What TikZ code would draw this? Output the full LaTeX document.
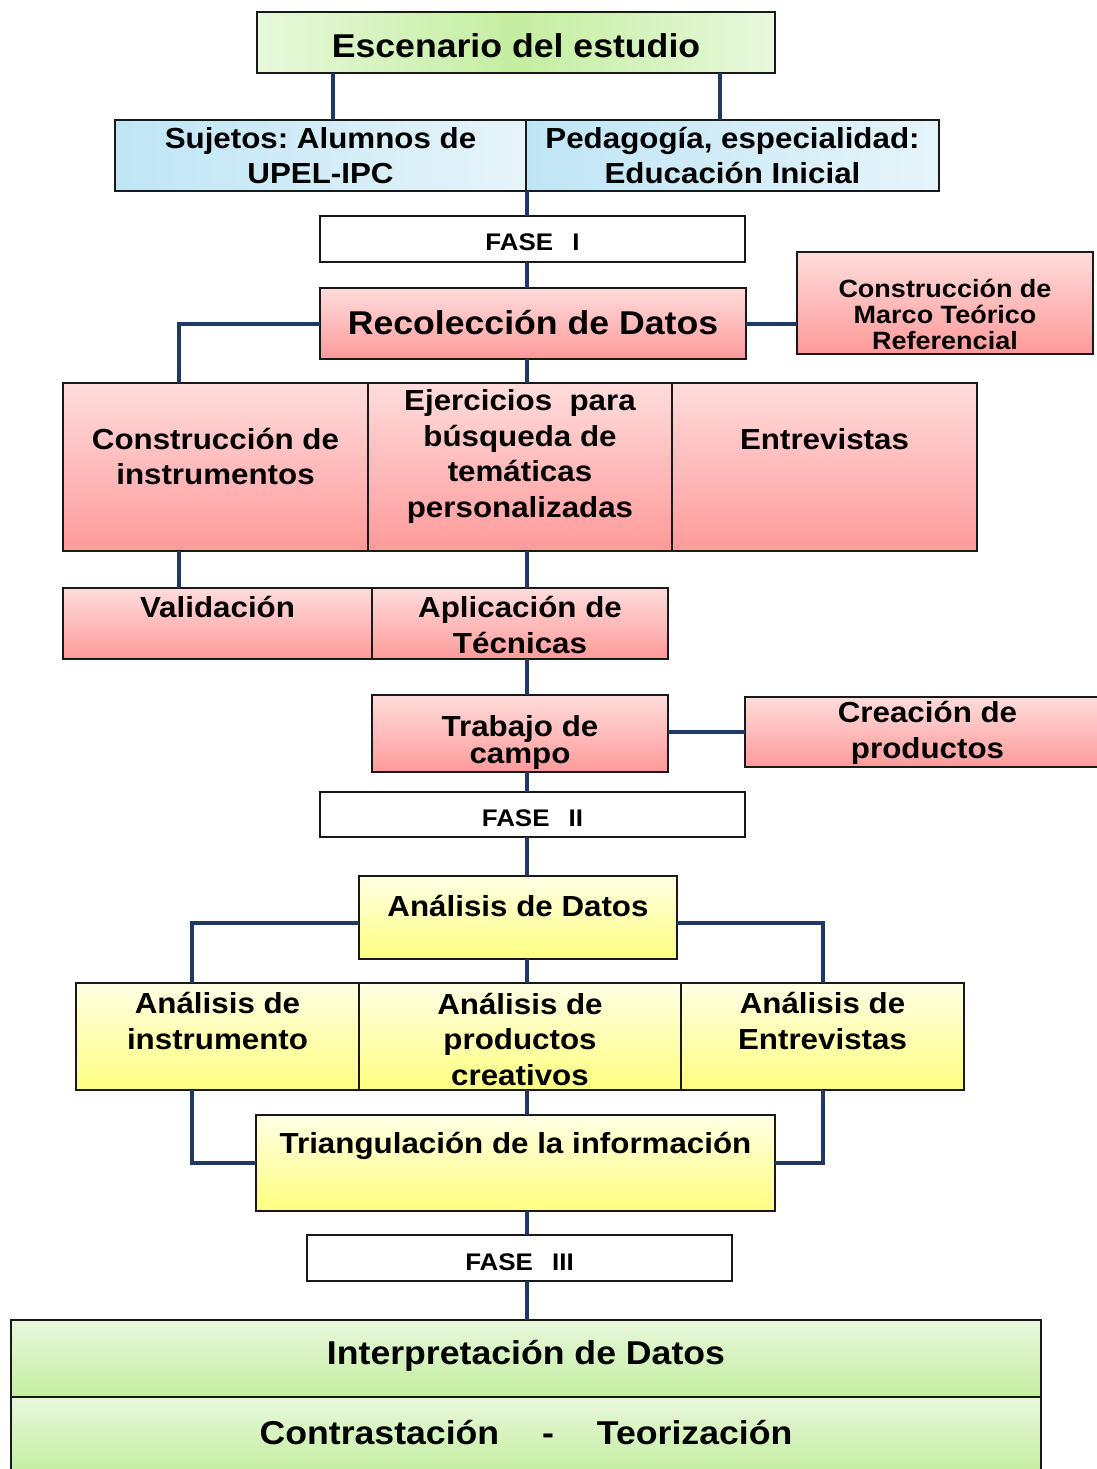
\documentclass[tikz,border=0pt]{standalone}
\usepackage{fontspec}
\setmainfont{Liberation Sans}[FakeStretch=1.08]
\frenchspacing

\definecolor{linkblue}{HTML}{1F3864}
\definecolor{pinktop}{HTML}{FFDCDC}
\definecolor{pinkbot}{HTML}{FF9A9A}
\definecolor{yeltop}{HTML}{FFFFE4}
\definecolor{yelbot}{HTML}{FFFF80}
\definecolor{greenedge}{HTML}{E8F8DC}
\definecolor{greenmid}{HTML}{C4EEA0}
\definecolor{blueedge}{HTML}{E6F4FA}
\definecolor{bluemid}{HTML}{BFE5F5}

\begin{document}
\begin{tikzpicture}[x=1pt, y=-1pt,
  box/.style={draw=black!90, line width=1.6, anchor=north west, inner sep=0, outer sep=0},
  whitebox/.style={box, fill=white},
  pinkbox/.style={box, top color=pinktop, bottom color=pinkbot},
  yellowbox/.style={box, top color=yeltop, bottom color=yelbot},
  greenh/.style={box, left color=greenedge, right color=greenedge, middle color=greenmid},
  greenv/.style={box, top color=greenedge, bottom color=greenmid},
  bluebox/.style={box, left color=bluemid, right color=blueedge},
  lab/.style={align=center, inner sep=0},
  fbig/.style={font=\bfseries\fontsize{33}{38}\selectfont},
  fmid/.style={font=\bfseries\fontsize{29}{35.5}\selectfont},
  ftight/.style={font=\bfseries\fontsize{29}{26.5}\selectfont},
  fsmall/.style={font=\bfseries\fontsize{25}{26}\selectfont},
  ffase/.style={font=\bfseries\fontsize{24}{28}\selectfont},
  link/.style={draw=linkblue, line width=4}]

\fill[white] (0,0) rectangle (1096,1469);
\useasboundingbox (0,0) rectangle (1096,1469);

% columns of the connectors
\coordinate (spine) at (527,0);
\coordinate (lcolA) at (179,0);
\coordinate (lcolB) at (192,0);

% escenario
\node[greenh, minimum width=518, minimum height=61,
  label={[lab, fbig, yshift=-3.5]center:Escenario del estudio}] (esc) at (257,12) {};
\node[bluebox, minimum width=411, minimum height=71,
  label={[lab, fmid]center:{Sujetos: Alumnos de\\UPEL-IPC}}] (suj) at (115,120) {};
\node[bluebox, minimum width=413, minimum height=71,
  label={[lab, fmid]center:{Pedagogía, especialidad:\\Educación Inicial}}] (ped) at (526,120) {};

% fase I
\node[whitebox, minimum width=425, minimum height=46,
  label={[lab, ffase, yshift=-3]center:FASE\hspace{0.8em}I}] (f1) at (320,216) {};
\node[pinkbox, minimum width=426, minimum height=71,
  label={[lab, fbig, yshift=1]center:Recolección de Datos}] (rec) at (320,288) {};
\node[pinkbox, minimum width=296, minimum height=102,
  label={[lab, fsmall, yshift=-11]center:{Construcción de\\Marco Teórico\\Referencial}}] (marco) at (797,252) {};
\node[pinkbox, minimum width=305, minimum height=168,
  label={[lab, fmid, yshift=10.5]center:{Construcción de\\instrumentos}}] (instr) at (63,383) {};
\node[pinkbox, minimum width=304, minimum height=168,
  label={[lab, fmid, yshift=10.5]center:{Ejercicios~~para\\búsqueda de\\temáticas\\personalizadas}}] (ejer) at (368,383) {};
\node[pinkbox, minimum width=305, minimum height=168,
  label={[lab, fmid, yshift=28]center:Entrevistas}] (entr) at (672,383) {};
\node[pinkbox, minimum width=309, minimum height=71,
  label={[lab, fmid, yshift=16.5]center:Validación}] (valid) at (63,588) {};
\node[pinkbox, minimum width=296, minimum height=71,
  label={[lab, fmid, yshift=-1.5]center:{Aplicación de\\Técnicas}}] (apl) at (372,588) {};
\node[pinkbox, minimum width=296, minimum height=77,
  label={[lab, ftight, yshift=-9]center:{Trabajo de\\campo}}] (trab) at (372,695) {};
\node[pinkbox, minimum width=365, minimum height=70,
  label={[lab, fmid, yshift=-1]center:{Creación de\\productos}}] (crea) at (745,697) {};

% fase II
\node[whitebox, minimum width=425, minimum height=45,
  label={[lab, ffase, yshift=-3.5]center:FASE\hspace{0.8em}II}] (f2) at (320,792) {};
\node[yellowbox, minimum width=318, minimum height=83,
  label={[lab, fmid, yshift=11.5]center:Análisis de Datos}] (anDat) at (359,876) {};
\node[yellowbox, minimum width=283, minimum height=107,
  label={[lab, fmid, yshift=15.5]center:{Análisis de\\instrumento}}] (an1) at (76,983) {};
\node[yellowbox, minimum width=322, minimum height=107,
  label={[lab, fmid, yshift=-2.5]center:{Análisis de\\productos\\creativos}}] (an2) at (359,983) {};
\node[yellowbox, minimum width=283, minimum height=107,
  label={[lab, fmid, yshift=15.5]center:{Análisis de\\Entrevistas}}] (an3) at (681,983) {};
\node[yellowbox, minimum width=519, minimum height=96,
  label={[lab, fmid, yshift=17]center:Triangulación de la información}] (tri) at (256,1115) {};

% fase III
\node[whitebox, minimum width=425, minimum height=46,
  label={[lab, ffase, yshift=-4]center:FASE\hspace{0.8em}III}] (f3) at (307,1235) {};
\node[greenv, minimum width=1030, minimum height=77,
  label={[lab, fbig, yshift=2.5]center:Interpretación de Datos}] (interp) at (11,1320) {};
\node[greenv, minimum width=1030, minimum height=75,
  label={[lab, fbig, yshift=1.5]center:Contrastación\hspace{1.3em}-\hspace{1.3em}Teorización}] (contr) at (11,1397) {};

% connectors
\coordinate (escL) at ([xshift=76]esc.south west);
\coordinate (escR) at ([xshift=-55]esc.south east);
\draw[link] (escL) -- (escL |- suj.north);
\draw[link] (escR) -- (escR |- ped.north);
\draw[link] (spine |- suj.south) -- (spine |- f1.north);
\draw[link] (spine |- f1.south) -- (spine |- rec.north);
\draw[link] (rec.west) -| (lcolA |- instr.north);
\draw[link] (rec.east) -- (rec.east -| marco.west);
\draw[link] (spine |- rec.south) -- (spine |- ejer.north);
\draw[link] (lcolA |- instr.south) -- (lcolA |- valid.north);
\draw[link] (spine |- ejer.south) -- (spine |- apl.north);
\draw[link] (spine |- apl.south) -- (spine |- trab.north);
\draw[link] ([yshift=2]trab.east) -- ([yshift=2]trab.east -| crea.west);
\draw[link] (spine |- trab.south) -- (spine |- f2.north);
\draw[link] (spine |- f2.south) -- (spine |- anDat.north);
\draw[link] ([yshift=-5]anDat.west) -| (lcolB |- an1.north);
\draw[link] ([yshift=-5]anDat.east) -| (an3.north);
\draw[link] (spine |- anDat.south) -- (spine |- an2.north);
\draw[link] (lcolB |- an1.south) |- (tri.west);
\draw[link] (an3.south) |- (tri.east);
\draw[link] (spine |- an2.south) -- (spine |- tri.north);
\draw[link] (spine |- tri.south) -- (spine |- f3.north);
\draw[link] (spine |- f3.south) -- (spine |- interp.north);
\end{tikzpicture}
\end{document}
